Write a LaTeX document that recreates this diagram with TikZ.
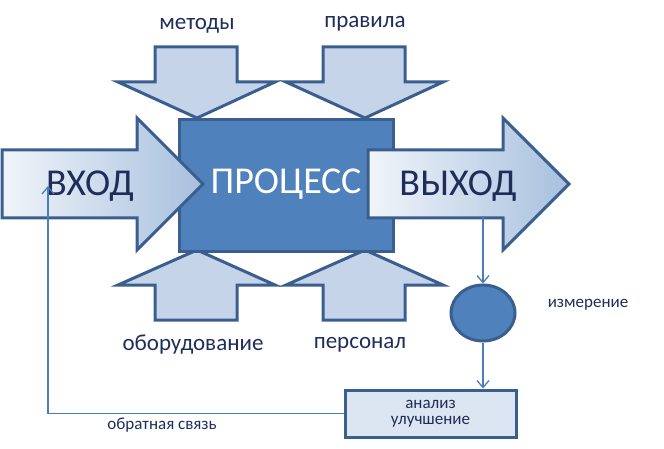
\documentclass[tikz,border=0pt]{standalone}
\usepackage{fontspec}
\setmainfont{Carlito}
\usetikzlibrary{arrows.meta,shapes.geometric}
\definecolor{navy}{HTML}{1F2D5A}
\definecolor{bord}{HTML}{3A5F8F}
\definecolor{procfill}{HTML}{4F81BD}
\definecolor{lightarr}{HTML}{C5D4E8}
\definecolor{boxfill}{HTML}{DCE6F2}
\definecolor{lineblue}{HTML}{4A7EBB}
\tikzset{
 bigarrow/.style={draw=bord,line width=3pt,left color=white!92!procfill,right color=procfill!50},
 smallarrow/.style={draw=bord,line width=3pt,fill=lightarr},
 lbl/.style={text=navy,font=\fontsize{23}{26}\selectfont},
 sml/.style={text=navy,font=\fontsize{17}{19}\selectfont},
 big/.style={font=\fontsize{38}{42}\selectfont},
 conn/.style={draw=lineblue,line width=1.3pt,-{Straight Barb[length=7pt,width=12pt]}}
}
\begin{document}
\begin{tikzpicture}[x=1pt,y=-1pt]
\useasboundingbox (0,0) rectangle (664,449);
\foreach \cx in {197,365}{
 \draw[smallarrow] (\cx-42,47) -- (\cx+40,47) -- (\cx+40,82) -- (\cx+78,82) -- (\cx,118) -- (\cx-79,82) -- (\cx-42,82) -- cycle;
 \draw[smallarrow] (\cx-42,320) -- (\cx+40,320) -- (\cx+40,285) -- (\cx+78,285) -- (\cx,250) -- (\cx-79,285) -- (\cx-42,285) -- cycle;
}
\node[draw=bord,line width=3pt,fill=procfill,minimum width=214pt,minimum height=132pt,anchor=north west] (proc) at (178,118) {};
\draw[bigarrow] (2,150) -- (137,150) -- (137,118) -- (203,184) -- (137,250) -- (137,218) -- (2,218) -- cycle;
\draw[bigarrow] (368,150) -- (503,150) -- (503,118) -- (569,184) -- (503,250) -- (503,218) -- (368,218) -- cycle;
\node[text=white,big] (proctext) at (286,184) {ПРОЦЕСС};
\node[text=navy,big] (vhod) at (90,186) {ВХОД};
\node[text=navy,big] (vyhod) at (458,186) {ВЫХОД};
\coordinate (outb) at (483,216);
\coordinate (fb) at (48,186);
\node[lbl] (m) at (197,26) {методы};
\node[lbl] (p) at (365,24) {правила};
\node[lbl] (o) at (193,345) {оборудование};
\node[lbl] (pe) at (360,345) {персонал};
\node[ellipse,draw=bord,line width=3pt,fill=procfill,minimum width=64pt,minimum height=56pt,inner sep=0pt] (meas) at (483,313) {};
\node[sml] (ml) at (588,305) {измерение};
\node[draw=bord,line width=3pt,fill=boxfill,minimum width=171pt,minimum height=47pt,align=center,inner sep=0pt,sml] (box) at (430.5,413.5) {анализ\\[-3pt]улучшение};
\node[sml] (fl) at (162,425) {обратная связь};
\draw[conn] (outb) -- (meas.north);
\draw[conn] (meas.south) -- (box.north -| meas.south);
\draw[conn] (box.west) -- (48,413.5) -- (fb);
\end{tikzpicture}
\end{document}
